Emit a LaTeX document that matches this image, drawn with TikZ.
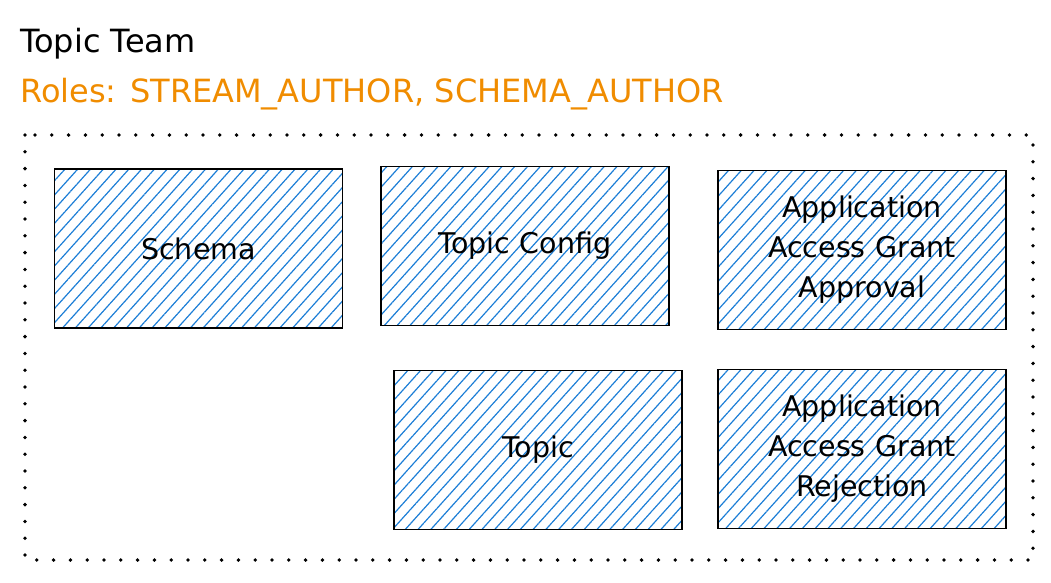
\documentclass[tikz,border=0pt]{standalone}
\usepackage{fontspec}
\setmainfont{DejaVu Sans}
\usetikzlibrary{patterns.meta}
\definecolor{roleorange}{HTML}{F08C00}
\definecolor{hatchblue}{HTML}{1C7ED6}

\begin{document}
\begin{tikzpicture}[x=1pt,y=-1pt,
        block/.style={draw,line width=1.6pt,minimum width=288pt,minimum height=159pt,inner sep=0pt,
            align=center,text width=270pt,font=\fontsize{28.5}{40}\selectfont,
            pattern={Lines[angle=48,distance=9.5pt,line width=1.2pt]},pattern color=hatchblue},
        title/.style={anchor=base west,inner sep=0pt,font=\fontsize{32}{36}\selectfont}]

    \useasboundingbox (0,0) rectangle (1051,582);

    \node[title] (team) at (20,52) {Topic Team};
    \node[title,text=roleorange] (roles) at (20,102) {Roles: STREAM\_AUTHOR, SCHEMA\_AUTHOR};

    \draw[line width=3.8pt,line cap=round,dash pattern=on 0pt off 16.8pt] (25,135) rectangle (1033,560);

    \node[block] (schema) at (198.5,248.5) {Schema};
    \node[block] (config) at (525,246) {Topic Config};
    \node[block] (approval) at (862,250) {Application\\Access Grant\\Approval};
    \node[block] (topic) at (538,450) {Topic};
    \node[block] (rejection) at (862,449) {Application\\Access Grant\\Rejection};
\end{tikzpicture}
\end{document}
